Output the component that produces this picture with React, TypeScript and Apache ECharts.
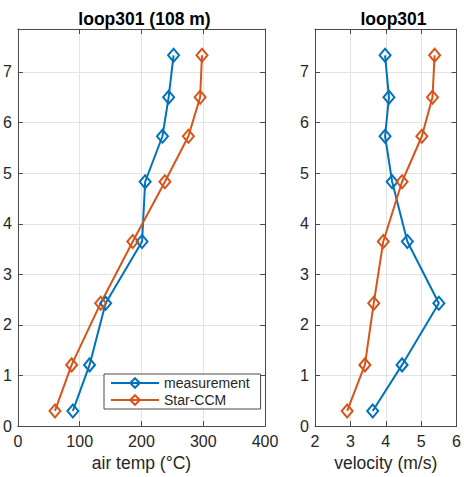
import React, { useEffect, useRef } from "react";
import * as echarts from "echarts";

const heights = [0.30, 1.21, 2.43, 3.65, 4.83, 5.73, 6.50, 7.33];
const measTemp = [89, 116, 142, 201, 206, 234, 244, 252];
const simTemp = [60, 87, 134, 186, 238, 276, 295, 298];
const measVel = [3.63, 4.46, 5.50, 4.61, 4.18, 3.98, 4.09, 3.98];
const simVel = [2.91, 3.41, 3.66, 3.93, 4.46, 5.02, 5.32, 5.38];
const seriesNames = ["measurement", "Star-CCM"];
const titles = ["loop301 (108 m)", "loop301"];
const xNames = ["air temp (°C)", "velocity (m/s)"];

const BLUE = "#0072BD";
const ORANGE = "#D95319";
const AXIS = "#4a4a4a";
const TEXT = "#262626";
const GRIDC = "#e3e3e3";
const FONT = "'Liberation Sans', Arial, Helvetica, sans-serif";

export default function App() {
  const ref = useRef<HTMLDivElement>(null);
  useEffect(() => {
    document.body.style.margin = "0";
    const chart = echarts.init(ref.current!, null, { renderer: "svg" });
    const grids = [
      { left: 14, top: 29, width: 251, height: 399 },
      { left: 315, top: 29, width: 147, height: 399 },
    ];
    const xr = [
      { min: 0, max: 400, interval: 100 },
      { min: 2, max: 6, interval: 1 },
    ];
    const nameGaps = [27, 21];
    const xAxes: any[] = [];
    const yAxes: any[] = [];
    grids.forEach((g, i) => {
      xAxes.push({
        type: "value",
        gridIndex: i,
        position: "bottom",
        ...xr[i],
        name: xNames[i],
        nameLocation: "middle",
        nameGap: nameGaps[i],
        nameTextStyle: { fontSize: 17.5, color: TEXT, fontFamily: FONT },
        axisLine: { show: true, onZero: false, lineStyle: { color: AXIS, width: 1 } },
        axisTick: { show: true, inside: true, length: 5, lineStyle: { color: AXIS } },
        axisLabel: { fontSize: 16, color: TEXT, margin: 7, fontFamily: FONT },
        splitLine: { show: true, lineStyle: { color: GRIDC, width: 1 } },
      });
      xAxes.push({
        type: "value",
        gridIndex: i,
        position: "top",
        ...xr[i],
        axisLine: { show: true, onZero: false, lineStyle: { color: AXIS, width: 1 } },
        axisTick: { show: true, inside: true, length: 5, lineStyle: { color: AXIS } },
        axisLabel: { show: false },
        splitLine: { show: false },
      });
      yAxes.push({
        type: "value",
        gridIndex: i,
        position: "left",
        min: 0,
        max: 7.85,
        interval: 1,
        axisLine: { show: true, onZero: false, lineStyle: { color: AXIS, width: 1 } },
        axisTick: { show: true, inside: true, length: 5, lineStyle: { color: AXIS } },
        axisLabel: {
          fontSize: 16,
          color: TEXT,
          margin: 6,
          fontFamily: FONT,
          showMaxLabel: false,
          formatter: (v: number) => (Number.isInteger(v) ? String(v) : ""),
        },
        splitLine: { show: true, lineStyle: { color: GRIDC, width: 1 } },
      });
      yAxes.push({
        type: "value",
        gridIndex: i,
        position: "right",
        min: 0,
        max: 7.85,
        interval: 1,
        axisLine: { show: true, onZero: false, lineStyle: { color: AXIS, width: 1 } },
        axisTick: { show: true, inside: true, length: 5, lineStyle: { color: AXIS } },
        axisLabel: { show: false },
        splitLine: { show: false },
      });
    });

    const mk = (name: string, color: string, xs: number[], axisIdx: number) => ({
      type: "line",
      name,
      xAxisIndex: axisIdx * 2,
      yAxisIndex: axisIdx * 2,
      data: xs.map((x, k) => [x, heights[k]]),
      color,
      symbol: "diamond",
      symbolSize: [11, 13],
      showSymbol: true,
      showAllSymbol: true,
      lineStyle: { color, width: 2 },
      itemStyle: { color: "rgba(255,255,255,0)", borderColor: color, borderWidth: 2 },
      emphasis: { disabled: true },
    });

    chart.setOption({
      animation: false,
      textStyle: { fontFamily: FONT },
      title: [
        {
          text: titles[0],
          left: 139.5,
          top: 5,
          textAlign: "center",
          textStyle: { fontSize: 17.5, fontWeight: "bold", color: "#000", fontFamily: FONT },
        },
        {
          text: titles[1],
          left: 388.5,
          top: 5,
          textAlign: "center",
          textStyle: { fontSize: 17.5, fontWeight: "bold", color: "#000", fontFamily: FONT },
        },
      ],
      grid: grids,
      xAxis: xAxes,
      yAxis: yAxes,
      legend: {
        orient: "vertical",
        left: 104,
        top: 374,
        data: seriesNames,
        itemWidth: 48,
        itemHeight: 12,
        itemGap: 3,
        padding: [2, 11, 2, 6],
        backgroundColor: "#fff",
        borderColor: AXIS,
        borderWidth: 1,
        borderRadius: 0,
        textStyle: { fontSize: 14, color: TEXT, fontFamily: FONT },
      },
      series: [
        mk(seriesNames[0], BLUE, measTemp, 0),
        mk(seriesNames[1], ORANGE, simTemp, 0),
        mk(seriesNames[0], BLUE, measVel, 1),
        mk(seriesNames[1], ORANGE, simVel, 1),
      ],
    });
    return () => chart.dispose();
  }, []);
  return (
    <div
      ref={ref}
      style={{ position: "fixed", left: 0, top: 0, width: 464, height: 477, background: "#fff" }}
    />
  );
}
